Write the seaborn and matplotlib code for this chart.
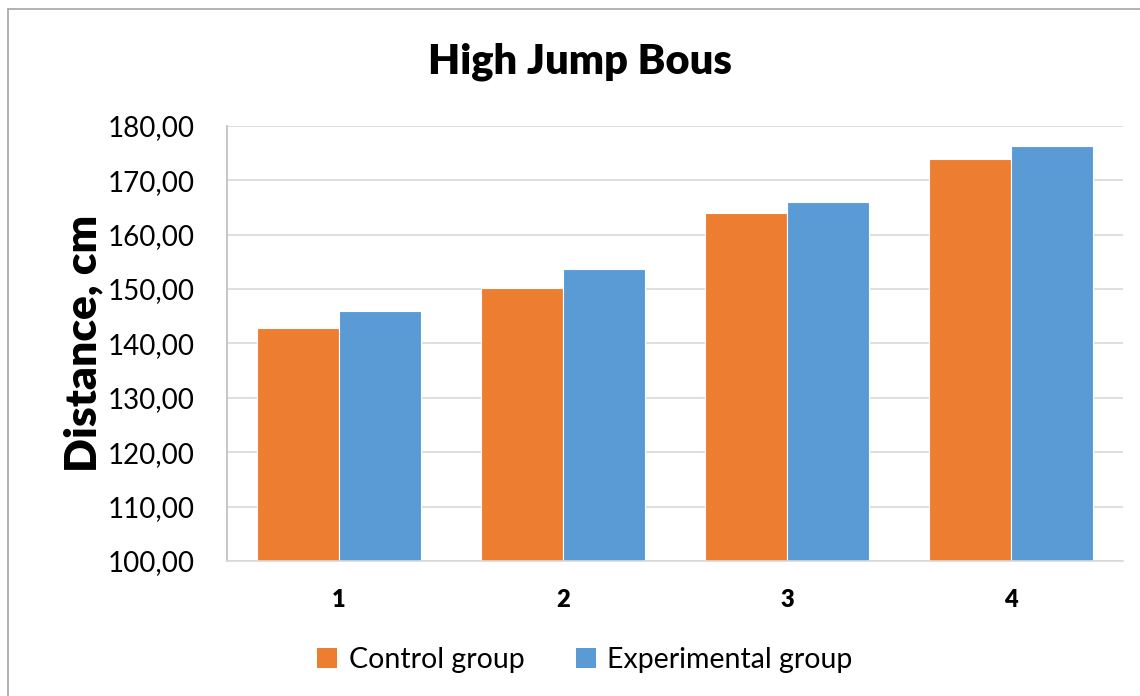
import matplotlib
matplotlib.use("Agg")
import matplotlib.pyplot as plt
import seaborn as sns
import pandas as pd
from matplotlib.ticker import FuncFormatter, MultipleLocator
from matplotlib.patches import Patch
from matplotlib.lines import Line2D

categories = ["1", "2", "3", "4"]
control = [142.8, 150.2, 163.9, 173.9]
experimental = [145.9, 153.6, 166.0, 176.2]
series_names = ["Control group", "Experimental group"]
colors = ["#ED7D31", "#5B9BD5"]

df = pd.DataFrame({
    "cat": categories * 2,
    "value": control + experimental,
    "group": [series_names[0]] * 4 + [series_names[1]] * 4,
})

sns.set_theme(style="white")
plt.rcParams["font.family"] = ["Lato", "DejaVu Sans"]
plt.rcParams["text.color"] = "black"

W, H = 1140, 696
fig = plt.figure(figsize=(W / 100, H / 100), dpi=100)
ax = fig.add_axes([227 / W, 1 - 561 / H, (1123 - 227) / W, (561 - 125.7) / H])

sns.barplot(data=df, x="cat", y="value", hue="group", palette=colors,
            width=0.73, gap=0, ax=ax, edgecolor="white", linewidth=0.8,
            legend=False, saturation=1)

ax.set_ylim(100, 180)
ax.yaxis.set_major_locator(MultipleLocator(10))
ax.yaxis.set_major_formatter(FuncFormatter(lambda v, p: f"{v:.2f}".replace(".", ",")))
ax.grid(axis="y", color="#D9D9D9", linewidth=1.2)
ax.set_axisbelow(True)
for s in ["top", "right"]:
    ax.spines[s].set_visible(False)
ax.spines["left"].set_color("#BFBFBF")
ax.spines["bottom"].set_color("#D9D9D9")
ax.spines["bottom"].set_linewidth(1.2)
ax.tick_params(axis="y", length=0, pad=23, labelsize=20, labelcolor="black")
ax.tick_params(axis="x", length=0, pad=20, labelsize=17, labelcolor="black")
for t in ax.get_xticklabels():
    t.set_fontweight("heavy")
ax.set_xlabel("")
ax.set_ylabel("Distance, cm", fontsize=32, fontweight="heavy", labelpad=3, color="black")

fig.text(580 / W, 1 - 62 / H, "High Jump Bous", ha="center", va="center",
         fontsize=30, fontweight="heavy", color="black")

handles = [Patch(facecolor=c, edgecolor="none") for c in colors]
fig.legend(handles, series_names, loc="center", bbox_to_anchor=(585 / W, 1 - 660 / H),
           ncol=2, frameon=False, fontsize=20.5, handlelength=0.7, handleheight=0.7,
           handletextpad=0.4, columnspacing=1.8, labelcolor="black")

fig.add_artist(Line2D([8 / W, 8 / W], [0, 1 - 9 / H], color="#A6A6A6", lw=1.2))
fig.add_artist(Line2D([8 / W, 1], [1 - 9 / H, 1 - 9 / H], color="#A6A6A6", lw=1.2))

fig.savefig("out.png", dpi=100)
